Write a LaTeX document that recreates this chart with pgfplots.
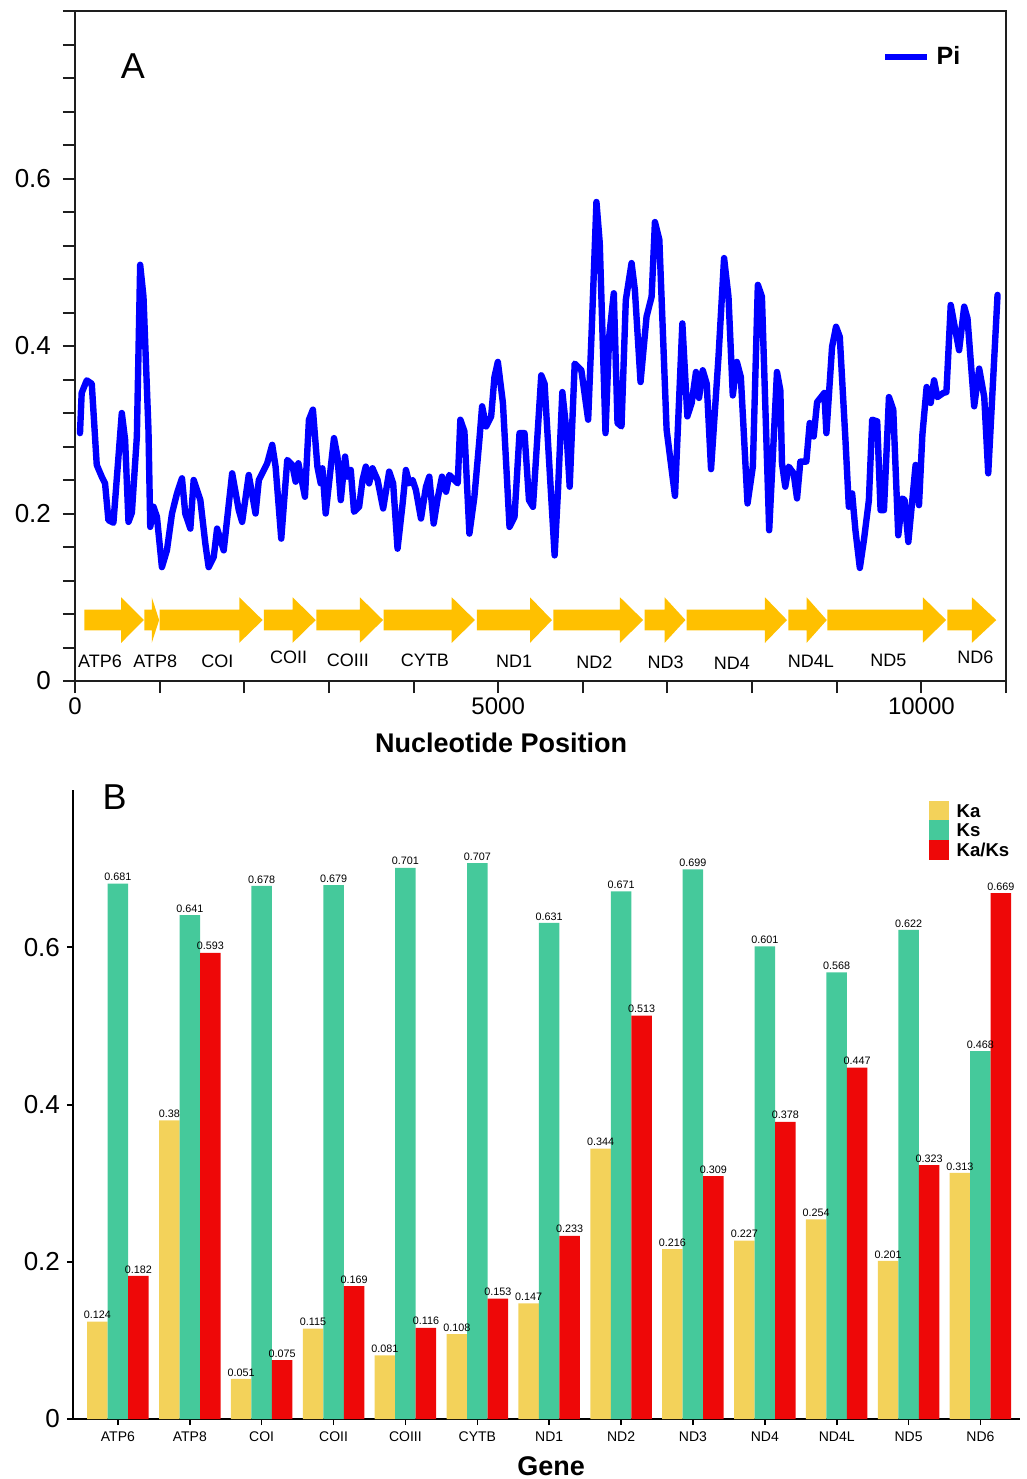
\documentclass[border=0pt]{standalone}
\usepackage{pgfplots}
\pgfplotsset{compat=1.18}
\usepackage{fontspec}
\setmainfont{Liberation Sans}
\setsansfont{Liberation Sans}
\definecolor{piblue}{RGB}{0,0,255}
\definecolor{arrowyel}{RGB}{255,192,0}
\definecolor{kacol}{RGB}{243,210,90}
\definecolor{kscol}{RGB}{69,201,155}
\definecolor{kakscol}{RGB}{238,8,8}
\definecolor{axgray}{RGB}{30,30,30}
\pgfplotstableread{
idx ka ks kaks
0 0.124 0.681 0.182
1 0.38 0.641 0.593
2 0.051 0.678 0.075
3 0.115 0.679 0.169
4 0.081 0.701 0.116
5 0.108 0.707 0.153
6 0.147 0.631 0.233
7 0.344 0.671 0.513
8 0.216 0.699 0.309
9 0.227 0.601 0.378
10 0.254 0.568 0.447
11 0.201 0.622 0.323
12 0.313 0.468 0.669
}\kadata
\newcommand{\fs}[1]{\fontsize{#1}{#1}\selectfont}
\begin{document}
\begin{tikzpicture}
\useasboundingbox (0,0) rectangle (513.5pt,-739.5pt);
% ---------------- Panel A ----------------
\begin{axis}[
  at={(37.5pt,-340.5pt)}, anchor=south west,
  scale only axis, width=465.5pt, height=335pt,
  clip mode=individual,
  xmin=0, xmax=11000, ymin=0, ymax=0.8,
  scaled x ticks=false,
  xtick={0,1000,2000,3000,4000,5000,6000,7000,8000,9000,10000,11000},
  xticklabels={0,,,,,5000,,,,,10000,},
  ytick={0,0.04,0.08,0.12,0.16,0.2,0.24,0.28,0.32,0.36,0.4,0.44,0.48,0.52,0.56,0.6,0.64,0.68,0.72,0.76,0.8},
  yticklabels={0,,,,,0.2,,,,,0.4,,,,,0.6,,,,,},
  xtick pos=bottom, ytick pos=left,
  tick align=outside, major tick length=6pt,
  axis line style={line width=1pt, axgray},
  every tick/.style={line width=1pt, axgray},
  xticklabel style={font=\fs{12}, yshift=1pt},
  yticklabel style={font=\fs{13}, xshift=-2.5pt},
  xlabel={\textbf{Nucleotide Position}},
  xlabel style={font=\fs{13.5}, at={(axis description cs:0.4576,0)}, anchor=center, yshift=-31pt},
  legend style={at={(axis description cs:0.867,0.931)}, anchor=west, draw=none, fill=none,
    font=\bfseries\fs{12.5}, inner sep=0pt, outer sep=0pt},
  legend image code/.code={\draw[#1, line width=3.2pt, line cap=butt] (0pt,0pt) -- (21pt,0pt);},
]
\addplot[piblue, line width=3.2pt, line join=round, line cap=round] coordinates {
(59,0.296) (79,0.344) (139,0.359) (198,0.355) (257,0.258) (316,0.244) (355,0.236) (395,0.192) (454,0.189) (553,0.320) (592,0.288) (632,0.190) (672,0.201) (731,0.292) (770,0.497) (809,0.459) (868,0.300) (889,0.184) (928,0.208) (968,0.196) (1027,0.136) (1086,0.156) (1146,0.200) (1205,0.224) (1264,0.242) (1303,0.200) (1363,0.182) (1402,0.240) (1481,0.216) (1540,0.164) (1579,0.136) (1639,0.148) (1679,0.182) (1757,0.156) (1857,0.248) (1935,0.204) (1975,0.190) (2053,0.246) (2133,0.200) (2172,0.240) (2271,0.260) (2330,0.282) (2370,0.256) (2437,0.170) (2508,0.264) (2567,0.258) (2607,0.238) (2639,0.260) (2717,0.220) (2764,0.312) (2811,0.324) (2864,0.256) (2903,0.236) (2923,0.254) (2962,0.200) (3001,0.236) (3060,0.290) (3101,0.268) (3140,0.216) (3191,0.268) (3219,0.244) (3258,0.252) (3297,0.202) (3357,0.208) (3397,0.240) (3436,0.256) (3475,0.236) (3515,0.254) (3575,0.240) (3641,0.206) (3712,0.250) (3759,0.236) (3811,0.158) (3871,0.212) (3910,0.252) (3949,0.236) (3989,0.240) (4028,0.228) (4088,0.194) (4147,0.232) (4186,0.244) (4238,0.188) (4285,0.218) (4336,0.244) (4384,0.226) (4423,0.246) (4482,0.240) (4522,0.236) (4553,0.312) (4601,0.298) (4660,0.176) (4719,0.220) (4778,0.288) (4810,0.328) (4858,0.304) (4917,0.316) (4956,0.363) (4996,0.381) (5056,0.332) (5134,0.184) (5193,0.196) (5252,0.296) (5311,0.296) (5364,0.216) (5411,0.208) (5509,0.365) (5548,0.355) (5667,0.150) (5707,0.228) (5758,0.345) (5805,0.300) (5845,0.232) (5904,0.379) (5983,0.371) (6063,0.312) (6102,0.411) (6161,0.572) (6200,0.523) (6268,0.296) (6311,0.411) (6366,0.463) (6410,0.308) (6457,0.304) (6508,0.455) (6576,0.499) (6615,0.467) (6682,0.357) (6753,0.435) (6813,0.459) (6852,0.548) (6904,0.527) (6990,0.300) (7089,0.221) (7176,0.427) (7235,0.316) (7286,0.332) (7337,0.369) (7373,0.338) (7417,0.371) (7464,0.355) (7515,0.253) (7603,0.387) (7669,0.505) (7721,0.459) (7772,0.341) (7820,0.381) (7867,0.363) (7946,0.212) (8009,0.256) (8068,0.473) (8116,0.459) (8202,0.180) (8294,0.369) (8334,0.347) (8353,0.260) (8392,0.232) (8432,0.256) (8491,0.248) (8531,0.218) (8570,0.262) (8641,0.262) (8681,0.308) (8728,0.292) (8768,0.333) (8854,0.344) (8878,0.296) (8945,0.399) (8992,0.423) (9036,0.411) (9103,0.288) (9143,0.208) (9182,0.224) (9221,0.180) (9273,0.135) (9321,0.168) (9380,0.216) (9419,0.312) (9478,0.310) (9518,0.204) (9558,0.204) (9617,0.339) (9668,0.324) (9727,0.174) (9775,0.218) (9802,0.216) (9846,0.166) (9932,0.258) (9972,0.210) (10012,0.294) (10062,0.351) (10110,0.332) (10150,0.359) (10189,0.339) (10260,0.344) (10296,0.345) (10347,0.449) (10394,0.423) (10446,0.395) (10506,0.447) (10545,0.433) (10624,0.328) (10683,0.373) (10743,0.339) (10790,0.248) (10900,0.461)
};
\addlegendentry{\hspace{1pt}Pi}
% gene arrows (start, head start, tip)
\pgfplotsset{every axis plot/.append style={forget plot}}
\addplot[fill=arrowyel, draw=none] coordinates {(112,0.0605) (546,0.0605) (546,0.0456) (813,0.0728) (546,0.1) (546,0.0851) (112,0.0851)} --cycle;
\addplot[fill=arrowyel, draw=none] coordinates {(820,0.0605) (907,0.0605) (907,0.0456) (994,0.0728) (907,0.1) (907,0.0851) (820,0.0851)} --cycle;
\addplot[fill=arrowyel, draw=none] coordinates {(1000,0.0605) (1941,0.0605) (1941,0.0456) (2217,0.0728) (1941,0.1) (1941,0.0851) (1000,0.0851)} --cycle;
\addplot[fill=arrowyel, draw=none] coordinates {(2231,0.0605) (2571,0.0605) (2571,0.0456) (2845,0.0728) (2571,0.1) (2571,0.0851) (2231,0.0851)} --cycle;
\addplot[fill=arrowyel, draw=none] coordinates {(2852,0.0605) (3366,0.0605) (3366,0.0456) (3640,0.0728) (3366,0.1) (3366,0.0851) (2852,0.0851)} --cycle;
\addplot[fill=arrowyel, draw=none] coordinates {(3647,0.0605) (4451,0.0605) (4451,0.0456) (4725,0.0728) (4451,0.1) (4451,0.0851) (3647,0.0851)} --cycle;
\addplot[fill=arrowyel, draw=none] coordinates {(4747,0.0605) (5376,0.0605) (5376,0.0456) (5636,0.0728) (5376,0.1) (5376,0.0851) (4747,0.0851)} --cycle;
\addplot[fill=arrowyel, draw=none] coordinates {(5651,0.0605) (6439,0.0605) (6439,0.0456) (6713,0.0728) (6439,0.1) (6439,0.0851) (5651,0.0851)} --cycle;
\addplot[fill=arrowyel, draw=none] coordinates {(6729,0.0605) (6966,0.0605) (6966,0.0456) (7213,0.0728) (6966,0.1) (6966,0.0851) (6729,0.0851)} --cycle;
\addplot[fill=arrowyel, draw=none] coordinates {(7227,0.0605) (8152,0.0605) (8152,0.0456) (8412,0.0728) (8152,0.1) (8152,0.0851) (7227,0.0851)} --cycle;
\addplot[fill=arrowyel, draw=none] coordinates {(8428,0.0605) (8644,0.0605) (8644,0.0456) (8883,0.0728) (8644,0.1) (8644,0.0851) (8428,0.0851)} --cycle;
\addplot[fill=arrowyel, draw=none] coordinates {(8890,0.0605) (10018,0.0605) (10018,0.0456) (10293,0.0728) (10018,0.1) (10018,0.0851) (8890,0.0851)} --cycle;
\addplot[fill=arrowyel, draw=none] coordinates {(10307,0.0605) (10597,0.0605) (10597,0.0456) (10885,0.0728) (10597,0.1) (10597,0.0851) (10307,0.0851)} --cycle;
\begin{scope}[every node/.style={font=\fs{9}}]
\node at (axis cs:296,0.024) {ATP6};
\node at (axis cs:948,0.024) {ATP8};
\node at (axis cs:1682,0.023) {COI};
\node at (axis cs:2524,0.028) {COII};
\node at (axis cs:3223,0.025) {COIII};
\node at (axis cs:4135,0.025) {CYTB};
\node at (axis cs:5189,0.023) {ND1};
\node at (axis cs:6137,0.023) {ND2};
\node at (axis cs:6978,0.022) {ND3};
\node at (axis cs:7760,0.021) {ND4};
\node at (axis cs:8696,0.024) {ND4L};
\node at (axis cs:9609,0.025) {ND5};
\node at (axis cs:10639,0.028) {ND6};
\end{scope}
\node[font=\fs{18}] at (axis description cs:0.0623,0.918) {A};
\end{axis}
% ---------------- Panel B ----------------
\begin{axis}[
  at={(36.5pt,-709.5pt)}, anchor=south west,
  scale only axis, width=473.5pt, height=314.5pt,
  clip mode=individual,
  ybar=0pt, bar width=10.25pt,
  xmin=-0.625, xmax=12.55, ymin=0, ymax=0.8,
  axis x line*=bottom, axis y line*=left,
  xtick={0,...,12},
  xticklabels={ATP6,ATP8,COI,COII,COIII,CYTB,ND1,ND2,ND3,ND4,ND4L,ND5,ND6},
  ytick={0,0.2,0.4,0.6}, yticklabels={0,0.2,0.4,0.6},
  tick align=outside, major tick length=3pt,
  x tick style={line width=0.8pt, black}, y tick style={line width=1pt, black},
  axis line style={line width=1pt, black},
  xticklabel style={font=\fs{7}},
  yticklabel style={font=\fs{13}},
  xlabel={\textbf{Gene}},
  xlabel style={font=\fs{13.5}, at={(axis description cs:0.505,0)}, anchor=center, yshift=-23.5pt},
  /pgf/number format/.cd, fixed, precision=3, assume math mode=true, /pgfplots/.cd,
  every node near coord/.append style={font=\fs{5.4}, inner sep=1.2pt, black},
  legend style={at={(axis description cs:0.904,0.983)}, anchor=north west, draw=none, fill=none,
    font=\bfseries\fs{9.3}, inner sep=0pt, outer sep=0pt, row sep=-0.4pt,
    nodes={inner sep=0pt, text height=7pt, text depth=2pt}},
  legend cell align=left,
  legend image code/.code={\fill[#1] (0pt,-4pt) rectangle (9.75pt,5.75pt);},
]
\addplot[fill=kacol, draw=none, bar shift=-10.25pt] table[x=idx, y=ka] {\kadata};
\addlegendentry{\hspace{4pt}Ka}
\addplot[fill=kscol, draw=none, bar shift=0pt] table[x=idx, y=ks] {\kadata};
\addlegendentry{\hspace{4pt}Ks}
\addplot[fill=kakscol, draw=none, bar shift=10.25pt] table[x=idx, y=kaks] {\kadata};
\addlegendentry{\hspace{4pt}Ka/Ks}
% value labels drawn on top of all bars
\addplot[draw=none, fill=none, bar shift=-10.25pt, nodes near coords, forget plot] table[x=idx, y=ka] {\kadata};
\addplot[draw=none, fill=none, bar shift=0pt, nodes near coords, forget plot] table[x=idx, y=ks] {\kadata};
\addplot[draw=none, fill=none, bar shift=10.25pt, nodes near coords, forget plot] table[x=idx, y=kaks] {\kadata};
\node[font=\fs{18}] at (axis description cs:0.044,0.989) {B};
\end{axis}
\end{tikzpicture}
\end{document}
